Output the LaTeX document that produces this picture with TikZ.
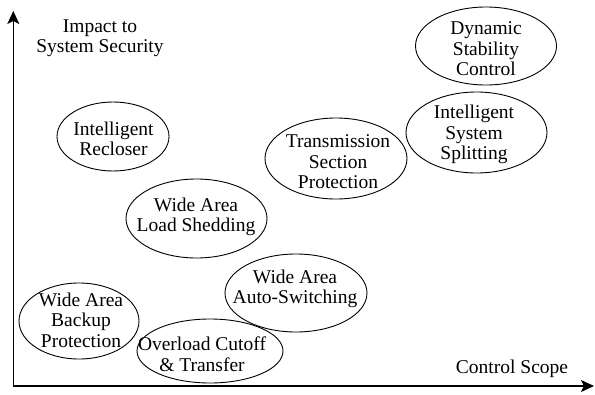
\documentclass[tikz,border=0pt]{standalone}
\usepackage{fontspec}
\setmainfont{Liberation Serif}
\usetikzlibrary{shapes.geometric,arrows.meta}

\tikzset{
  oval/.style={draw, ellipse, line width=0.9pt, inner sep=0pt},
  lbl/.style={align=center, inner sep=0pt, font=\fontsize{19.5}{20.5}\selectfont},
  axis/.style={line width=1.1pt, -{Stealth[length=13pt, width=12pt, inset=3pt]}}
}

\begin{document}
\begin{tikzpicture}[x=1pt, y=-1pt]
  \useasboundingbox (0,0) rectangle (595,394);

  % axes
  \coordinate (origin) at (13.3,386);
  \coordinate (ytip) at (13.3,11);
  \coordinate (xtip) at (594,386);
  \draw[axis] (origin) -- (ytip);
  \draw[axis] (origin) -- (xtip);

  \node[lbl] (ylabel) at (100,38) {Impact to\\System Security};
  \node[lbl] (xlabel) at (512,368.5) {Control Scope};

  % measures
  \node[oval, minimum width=141pt, minimum height=78pt] (dsc) at (486,46) {};
  \node[lbl] (dsc-t) at (486,48.9) {Dynamic\\Stability\\Control};

  \node[oval, minimum width=141pt, minimum height=81pt] (iss) at (476.5,132.5) {};
  \node[lbl] (iss-t) at (474,134.5) {Intelligent\\System\\Splitting};

  \node[oval, minimum width=142pt, minimum height=81pt] (tsp) at (336,158.5) {};
  \node[lbl] (tsp-t) at (338,161.9) {Transmission\\Section\\Protection};

  \node[oval, minimum width=112pt, minimum height=69pt] (ir) at (113,136.5) {};
  \node[lbl] (ir-t) at (113.5,138.9) {Intelligent\\Recloser};

  \node[oval, minimum width=141pt, minimum height=79pt] (wals) at (196.5,218.5) {};
  \node[lbl] (wals-t) at (196,217) {Wide Area\\Load Shedding};

  \node[oval, minimum width=142pt, minimum height=78pt] (waas) at (296,293) {};
  \node[lbl] (waas-t) at (295,289) {Wide Area\\Auto-Switching};

  \node[oval, minimum width=120pt, minimum height=76pt] (wabp) at (79,321) {};
  \node[lbl] (wabp-t) at (81,320.3) {Wide Area\\Backup\\Protection};

  \node[oval, minimum width=146pt, minimum height=64pt] (oct) at (210,351) {};
  \node[lbl] (oct-t) at (202,354.3) {Overload Cutoff\\\& Transfer};
\end{tikzpicture}
\end{document}
